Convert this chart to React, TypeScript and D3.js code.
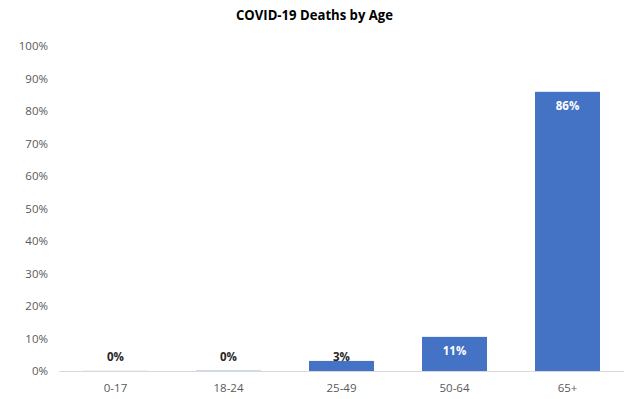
import React, { useEffect, useRef } from 'react';
import * as d3 from 'd3';

const ageGroups = ['0-17', '18-24', '25-49', '50-64', '65+'];
const deathShares = [0.0003, 0.0008, 0.031, 0.105, 0.859];
const shareLabels = ['0%', '0%', '3%', '11%', '86%'];
const yTicks = [0, 0.1, 0.2, 0.3, 0.4, 0.5, 0.6, 0.7, 0.8, 0.9, 1];

const W = 629;
const H = 399;
const FONT = "'Open Sans', 'Liberation Sans', sans-serif";

const App = () => {
  const ref = useRef<SVGSVGElement>(null);

  useEffect(() => {
    const svg = d3.select(ref.current);
    svg.selectAll('*').remove();

    const margin = { top: 46, right: 5, bottom: 28, left: 59 };

    const x = d3
      .scaleBand()
      .domain(ageGroups)
      .range([margin.left, W - margin.right])
      .paddingInner(0.425)
      .paddingOuter(0.2125);

    const y = d3
      .scaleLinear()
      .domain([0, 1])
      .range([H - margin.bottom, margin.top]);

    svg
      .append('rect')
      .attr('width', W)
      .attr('height', H)
      .attr('fill', '#ffffff');

    svg
      .append('text')
      .attr('x', W / 2)
      .attr('y', 20)
      .attr('text-anchor', 'middle')
      .attr('textLength', 157)
      .attr('lengthAdjust', 'spacingAndGlyphs')
      .style('font-family', FONT)
      .style('font-size', '15px')
      .style('font-weight', 'bold')
      .attr('fill', '#000')
      .text('COVID-19 Deaths by Age');

    // y labels, no gridlines
    svg
      .append('g')
      .selectAll('text')
      .data(yTicks)
      .join('text')
      .attr('x', 48)
      .attr('y', (d) => y(d))
      .attr('dy', '0.35em')
      .attr('text-anchor', 'end')
      .style('font-family', FONT)
      .style('font-size', '11.5px')
      .attr('fill', '#595959')
      .text((d) => d3.format('.0%')(d));

    const data = ageGroups.map((g, i) => ({
      g,
      v: deathShares[i],
      label: shareLabels[i],
    }));

    svg
      .append('g')
      .selectAll('rect')
      .data(data)
      .join('rect')
      .attr('x', (d) => x(d.g)!)
      .attr('width', x.bandwidth())
      .attr('y', (d) => y(d.v))
      .attr('height', (d) => y(0) - y(d.v))
      .attr('fill', '#4472c4');

    // baseline
    svg
      .append('line')
      .attr('x1', margin.left)
      .attr('x2', W - margin.right)
      .attr('y1', y(0) + 0.5)
      .attr('y2', y(0) + 0.5)
      .attr('stroke', '#d9d9d9')
      .attr('stroke-width', 1);

    // category labels
    svg
      .append('g')
      .selectAll('text')
      .data(ageGroups)
      .join('text')
      .attr('x', (d) => x(d)! + x.bandwidth() / 2)
      .attr('y', y(0) + 17)
      .attr('dy', '0.35em')
      .attr('text-anchor', 'middle')
      .style('font-family', FONT)
      .style('font-size', '11.5px')
      .attr('fill', '#595959')
      .text((d) => d);

    // value labels: inside end for tall bars, just above the axis for small ones
    svg
      .append('g')
      .selectAll('text')
      .data(data)
      .join('text')
      .attr('x', (d) => x(d.g)! + x.bandwidth() / 2)
      .attr('y', (d) => (d.v > 0.05 ? y(d.v) + 14 : y(0) - 14.5))
      .attr('dy', '0.35em')
      .attr('text-anchor', 'middle')
      .style('font-family', FONT)
      .style('font-size', '11.5px')
      .style('font-weight', 'bold')
      .attr('fill', (d) => (d.v > 0.05 ? '#ffffff' : '#262626'))
      .text((d) => d.label);
  }, []);

  return (
    <svg
      ref={ref}
      width={W}
      height={H}
      style={{ display: 'block', position: 'absolute', left: 0, top: 0 }}
    />
  );
};

export default App;
